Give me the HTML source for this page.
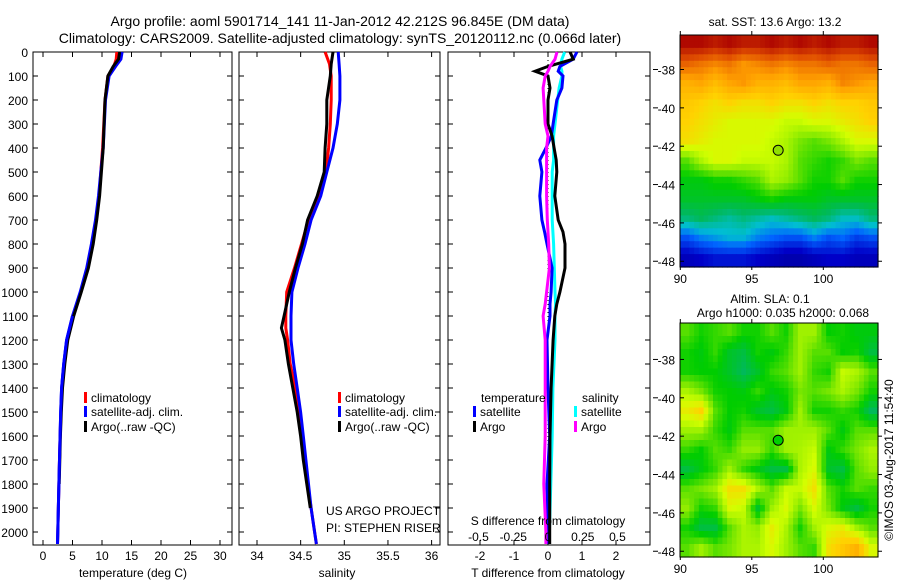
<!DOCTYPE html>
<html><head><meta charset="utf-8"><style>
html,body{margin:0;padding:0;background:#fff;}
svg{display:block;font-family:"Liberation Sans",sans-serif;}
text{fill:#000;}
</style></head><body>
<svg id="fig" width="900" height="580" viewBox="0 0 900 580" xmlns="http://www.w3.org/2000/svg">
<text x="340" y="26" font-size="14" text-anchor="middle">Argo profile: aoml 5901714_141 11-Jan-2012 42.212S 96.845E (DM data)</text>
<text x="340" y="43" font-size="14" text-anchor="middle">Climatology: CARS2009. Satellite-adjusted climatology: synTS_20120112.nc (0.066d later)</text>
<text x="775" y="26" font-size="12" text-anchor="middle">sat. SST: 13.6 Argo: 13.2</text>
<text x="770" y="303" font-size="12" text-anchor="middle">Altim. SLA: 0.1</text>
<text x="783" y="317" font-size="12" text-anchor="middle">Argo h1000: 0.035 h2000: 0.068</text>
<text transform="translate(893,460) rotate(-90)" font-size="12" text-anchor="middle">©IMOS 03-Aug-2017 11:54:40</text>
<g id="plots"></g>
</svg>
<script>
// ---- data ----
const depthT = [0,30,60,100,200,400,500,600,700,800,900,1000,1100,1200,1300,1400,1500,1600,1800,2000,2050];
const tempClim = [12.5,12.4,12.0,11.0,10.5,10.1,9.8,9.5,9.0,8.3,7.5,6.4,5.1,4.1,3.6,3.2,3.05,2.9,2.7,2.5,2.45];
const tempSat = [13.4,13.2,12.3,11.2,10.6,10.2,9.8,9.4,8.9,8.2,7.4,6.3,5.0,4.0,3.5,3.15,3.0,2.9,2.7,2.5,2.45];
const tempArgo = [13.0,12.8,11.9,11.0,10.5,10.2,9.9,9.6,9.1,8.5,7.7,6.5,5.2,4.2,3.7,3.3,3.1,2.95,2.75,2.55,2.5];
const depthS = [0,50,100,200,300,400,500,600,700,800,900,1000,1100,1150,1200,1300,1400,1500,1600,1700,1800,1900,2000,2050];
const salClim = [34.78,34.83,34.85,34.85,34.84,34.82,34.79,34.7,34.59,34.51,34.43,34.34,34.33,34.33,34.35,34.38,34.44,34.48,34.51,34.54,34.58,34.62,34.66,34.68];
const salSat = [34.93,34.94,34.95,34.95,34.92,34.87,34.8,34.73,34.62,34.55,34.47,34.4,34.39,34.39,34.39,34.42,34.46,34.5,34.53,34.56,34.59,34.62,34.66,34.68];
const salArgo = [34.87,34.85,34.84,34.8,34.8,34.78,34.77,34.69,34.58,34.52,34.44,34.37,34.31,34.28,34.32,34.36,34.41,34.46,34.5,34.53,34.57,34.61];
const depthD = [0,30,60,80,100,150,200,300,350,400,450,500,600,700,750,800,900,1000,1050,1100,1200,1400,1600,1800,2000,2050];
const dTArgo = [0.65,0.74,0.0,-0.38,0.0,0.06,0.0,0.0,0.12,0.18,0.24,0.26,0.2,0.3,0.44,0.5,0.5,0.35,0.26,0.2,0.15,0.09,0.06,0.05,0.05,0.05];
const dTSat = [0.85,0.74,0.35,0.3,0.44,0.41,0.26,0.15,0.1,-0.06,-0.24,-0.18,-0.24,-0.18,-0.1,-0.03,0.12,0.09,0.06,0.06,-0.03,0.0,0.05,-0.03,0.0,0.0];
const dSSat = [0.12,0.1,0.09,0.1,0.1,0.08,0.07,0.05,0.04,0.04,0.04,0.03,0.03,0.03,0.035,0.04,0.045,0.05,0.055,0.05,0.05,0.035,0.03,0.02,0.01,0.01];
const dSArgo = [0.065,0.05,0.015,0.0,-0.02,-0.035,-0.03,-0.02,0.0,-0.01,-0.01,-0.01,-0.01,-0.005,0.0,0.005,0.01,-0.01,-0.02,-0.035,-0.02,-0.02,-0.02,-0.03,-0.015,-0.015];
const tempTicks = [0,5,10,15,20,25,30];
const salTicks = [34,34.5,35,35.5,36];
const salTickLabels = ["34","34.5","35","35.5","36"];
const dTTicks = [-2,-1,0,1,2];
const dSTicks = [-0.5,-0.25,0,0.25,0.5];
const dSTickLabels = ["-0.5","-0.25","0","0.25","0.5"];
const depthTicks = [0,100,200,300,400,500,600,700,800,900,1000,1100,1200,1300,1400,1500,1600,1700,1800,1900,2000];
const latTicks = [-38,-40,-42,-44,-46,-48];
const lonTicks = [90,95,100];
const sstGrid = [
[.92,.92,.9,.92,.9,.9,.92,.9,.92,.9,.92,.9,.9,.92],
[.82,.8,.78,.8,.76,.78,.8,.78,.8,.8,.82,.8,.8,.82],
[.72,.74,.7,.74,.76,.72,.72,.7,.74,.74,.72,.78,.76,.74],
[.68,.66,.64,.66,.64,.64,.66,.64,.64,.66,.64,.66,.66,.68],
[.66,.64,.62,.6,.6,.6,.6,.58,.58,.6,.6,.62,.64,.66],
[.64,.62,.6,.6,.6,.6,.58,.56,.52,.5,.52,.56,.6,.6],
[.5,.56,.6,.6,.58,.58,.58,.56,.5,.48,.46,.48,.52,.5],
[.44,.44,.46,.46,.48,.5,.56,.54,.5,.46,.46,.5,.46,.46],
[.42,.42,.42,.42,.42,.44,.46,.44,.44,.44,.42,.42,.42,.42],
[.36,.38,.36,.34,.36,.34,.32,.34,.36,.38,.36,.32,.32,.36],
[.22,.26,.28,.3,.3,.26,.24,.22,.22,.26,.22,.24,.2,.22],
[.12,.14,.16,.16,.16,.14,.12,.1,.1,.12,.14,.14,.12,.12]];
const slaGrid = [
[.5,.46,.48,.5,.46,.46,.5,.46,.55,.55,.45,.46,.44,.44],
[.46,.44,.48,.42,.4,.46,.44,.48,.55,.5,.5,.45,.46,.4],
[.46,.45,.45,.42,.38,.42,.48,.5,.55,.48,.46,.58,.56,.5],
[.56,.52,.46,.45,.44,.48,.44,.46,.52,.5,.52,.56,.52,.46],
[.62,.66,.5,.45,.46,.42,.4,.44,.55,.46,.46,.48,.46,.38],
[.55,.55,.48,.44,.5,.5,.5,.55,.55,.55,.5,.44,.5,.5],
[.48,.45,.5,.48,.54,.54,.48,.55,.56,.58,.44,.48,.52,.56],
[.4,.44,.48,.55,.48,.44,.4,.4,.56,.6,.42,.4,.5,.54],
[.5,.52,.55,.64,.64,.56,.5,.58,.58,.64,.5,.46,.5,.48],
[.54,.46,.48,.6,.58,.42,.55,.6,.52,.6,.52,.44,.4,.46],
[.46,.4,.4,.5,.56,.54,.62,.56,.46,.55,.6,.62,.55,.5],
[.5,.55,.5,.52,.56,.56,.6,.55,.5,.48,.64,.68,.72,.6]];
const argoLon = 96.845, argoLat = -42.212;

// ---- scales ----
const NS = "http://www.w3.org/2000/svg";
const root = document.getElementById('plots');
const yD = d => 52 + d * 0.24;
const xT = t => 43 + t * 5.9;
const xS = s => 257 + (s - 34) * 87.3;
const xDT = v => 548 + v * 34;
const xDS = v => 548 + v * 139;
function el(tag, attrs, parent) {
  const e = document.createElementNS(NS, tag);
  for (const k in attrs) e.setAttribute(k, attrs[k]);
  (parent || root).appendChild(e);
  return e;
}
function line(xs, ys, xf, color, name) {
  const pts = [];
  for (let i = 0; i < Math.min(xs.length, ys.length); i++) pts.push(xf(xs[i]).toFixed(1) + ',' + yD(ys[i]).toFixed(1));
  const p = el('polyline', {points: pts.join(' '), fill: 'none', stroke: color, 'stroke-width': 3});
  
  
}
function txt(x, y, s, size, anchor, name) {
  const t = el('text', {x: x, y: y, 'font-size': size, 'text-anchor': anchor || 'start'});
  t.textContent = s;
  
  
  return t;
}
function panel(x0, x1, name) {
  const g = el('g', {});
  
  
  el('rect', {x: x0, y: 52, width: x1 - x0, height: 493, fill: 'none', stroke: '#000', 'stroke-width': 1}, g);
  depthTicks.forEach(d => {
    el('line', {x1: x0, x2: x0 + 5, y1: yD(d), y2: yD(d), stroke: '#000'}, g);
    el('line', {x1: x1 - 5, x2: x1, y1: yD(d), y2: yD(d), stroke: '#000'}, g);
  });
  return g;
}
function xticks(g, vals, xf) {
  vals.forEach(v => {
    el('line', {x1: xf(v), x2: xf(v), y1: 52, y2: 57, stroke: '#000'}, g);
    el('line', {x1: xf(v), x2: xf(v), y1: 540, y2: 545, stroke: '#000'}, g);
  });
}
function legendItem(x, y, color, label, name) {
  const r = el('rect', {x: x, y: y - 10, width: 3, height: 11, fill: color});
  
  
  txt(x + 7, y, label, 12, 'start', name + '-label');
}

// Panel 1 temperature
const g1 = panel(33, 232, 'temperature-panel');
xticks(g1, tempTicks, xT);
depthTicks.forEach(d => txt(28, yD(d) + 5, String(d), 12, 'end', 'depth-tick-label'));
tempTicks.forEach(v => txt(xT(v), 560, String(v), 12, 'middle', 'temp-tick-label'));
txt(133, 577, 'temperature (deg C)', 12, 'middle', 'temperature-axis-title');
line(tempClim, depthT, xT, '#f00', 'temp-climatology-line');
line(tempSat, depthT, xT, '#00f', 'temp-satellite-line');
line(tempArgo, depthT.slice(0, 19), xT, '#000', 'temp-argo-line');
line(tempSat.slice(12), depthT.slice(12), xT, '#00f', 'temp-satellite-line-deep');
legendItem(84, 402, '#f00', 'climatology', 'legend-temp-clim');
legendItem(84, 416, '#00f', 'satellite-adj. clim.', 'legend-temp-sat');
legendItem(84, 431, '#000', 'Argo(..raw -QC)', 'legend-temp-argo');

// Panel 2 salinity
const g2 = panel(239, 440, 'salinity-panel');
xticks(g2, salTicks, xS);
salTicks.forEach((v, i) => txt(xS(v), 560, salTickLabels[i], 12, 'middle', 'sal-tick-label'));
txt(337, 577, 'salinity', 12, 'middle', 'salinity-axis-title');
line(salClim, depthS, xS, '#f00', 'sal-climatology-line');
line(salSat, depthS, xS, '#00f', 'sal-satellite-line');
line(salArgo, depthS, xS, '#000', 'sal-argo-line');
legendItem(338, 402, '#f00', 'climatology', 'legend-sal-clim');
legendItem(338, 416, '#00f', 'satellite-adj. clim.', 'legend-sal-sat');
legendItem(338, 431, '#000', 'Argo(..raw -QC)', 'legend-sal-argo');
txt(326, 515, 'US ARGO PROJECT', 12, 'start', 'project-label');
txt(326, 532, 'PI: STEPHEN RISER', 12, 'start', 'pi-label');

// Panel 3 differences
const g3 = panel(448, 650, 'difference-panel');
xticks(g3, dTTicks, xDT);
el('line', {x1: 548, x2: 548, y1: 52, y2: 545, stroke: '#000', 'stroke-dasharray': '1,3'}, g3);
dTTicks.forEach(v => txt(xDT(v), 560, String(v), 12, 'middle', 'dt-tick-label'));
txt(548, 577, 'T difference from climatology', 12, 'middle', 'tdiff-axis-title');
line(dSSat, depthD, xDS, '#0ff', 'sdiff-satellite-line');
line(dTSat, depthD, xDT, '#00f', 'tdiff-satellite-line');
line(dTArgo, depthD, xDT, '#000', 'tdiff-argo-line');
line(dSArgo, depthD, xDS, '#f0f', 'sdiff-argo-line');
txt(481, 402, 'temperature', 12, 'start', 'legend-temperature-heading');
txt(582, 402, 'salinity', 12, 'start', 'legend-salinity-heading');
legendItem(473, 416, '#00f', 'satellite', 'legend-tdiff-sat');
legendItem(473, 431, '#000', 'Argo', 'legend-tdiff-argo');
legendItem(574, 416, '#0ff', 'satellite', 'legend-sdiff-sat');
legendItem(574, 431, '#f0f', 'Argo', 'legend-sdiff-argo');
txt(548, 525, 'S difference from climatology', 12, 'middle', 'sdiff-axis-title');
dSTicks.forEach((v, i) => txt(xDS(v), 541, dSTickLabels[i], 12, 'middle', 'ds-tick-label'));

// Maps
const cmapStops = [
  [0.0, [0,0,110]], [0.14, [0,0,200]], [0.24, [0,100,255]], [0.31, [0,190,210]],
  [0.38, [0,185,90]], [0.45, [0,205,0]], [0.52, [120,230,0]], [0.59, [210,255,0]],
  [0.66, [255,210,0]], [0.75, [255,160,0]], [0.84, [225,80,0]], [0.93, [170,0,0]], [1.0, [140,0,0]]];
function cmap(v) {
  v = Math.max(0, Math.min(1, v));
  for (let i = 1; i < cmapStops.length; i++) {
    if (v <= cmapStops[i][0]) {
      const [a, ca] = cmapStops[i - 1], [b, cb] = cmapStops[i];
      const t = (v - a) / (b - a);
      return 'rgb(' + ca.map((c, k) => Math.round(c + (cb[k] - c) * t)).join(',') + ')';
    }
  }
  return 'rgb(140,0,0)';
}
function mapPanel(y0, y1, latTop, grid, name, markerFill) {
  const x0 = 680, x1 = 878;
  const lonX = lon => 680.3 + (lon - 90) * 14.3;
  const latY = lat => y0 + (latTop - lat) * ((y1 - y0) / (latTop + 48.3));
  const g = el('g', {});
  
  
  const rows = grid.length, cols = grid[0].length;
  const sub = 3;
  const cw = (x1 - x0) / (cols * sub), ch = (y1 - y0) / (rows * sub);
  for (let i = 0; i < rows * sub; i++) for (let j = 0; j < cols * sub; j++) {
    const fr = Math.max(0, Math.min(rows - 1, (i + 0.5) / sub - 0.5));
    const fc = Math.max(0, Math.min(cols - 1, (j + 0.5) / sub - 0.5));
    const r0 = Math.floor(fr), c0 = Math.floor(fc);
    const r1 = Math.min(rows - 1, r0 + 1), c1 = Math.min(cols - 1, c0 + 1);
    const a = fr - r0, b = fc - c0;
    const v = grid[r0][c0] * (1 - a) * (1 - b) + grid[r0][c1] * (1 - a) * b + grid[r1][c0] * a * (1 - b) + grid[r1][c1] * a * b;
    const c = el('rect', {x: (x0 + j * cw).toFixed(2), y: (y0 + i * ch).toFixed(2), width: (cw + 0.6).toFixed(2), height: (ch + 0.6).toFixed(2), fill: cmap(v)}, g);
    
    
  }
  el('rect', {x: x0, y: y0, width: x1 - x0, height: y1 - y0, fill: 'none', stroke: '#000'}, g);
  latTicks.forEach(l => {
    const y = latY(l);
    el('line', {x1: x0, x2: x0 + 4, y1: y, y2: y, stroke: '#000'}, g);
    el('line', {x1: x1, x2: x1 + 4, y1: y, y2: y, stroke: '#000'}, g);
    el('line', {x1: 653, x2: 658, y1: y, y2: y, stroke: '#000'}, g);
    txt(675, y + 5, String(l), 12, 'end', 'lat-tick-label');
  });
  lonTicks.forEach(l => {
    const x = lonX(l);
    el('line', {x1: x, x2: x, y1: y0 - 4, y2: y0, stroke: '#000'}, g);
    el('line', {x1: x, x2: x, y1: y1, y2: y1 + 3, stroke: '#000'}, g);
    txt(x, y1 + 16, String(l), 12, 'middle', 'lon-tick-label');
  });
  const m = el('circle', {cx: lonX(argoLon), cy: latY(argoLat), r: 5, fill: markerFill, stroke: '#000', 'stroke-width': 1}, g);
  
  
}
mapPanel(35, 267, -36.2, sstGrid, 'sst-map', '#90e000');
mapPanel(323, 557, -36.1, slaGrid, 'sla-map', '#00d000');
</script>
</body></html>
